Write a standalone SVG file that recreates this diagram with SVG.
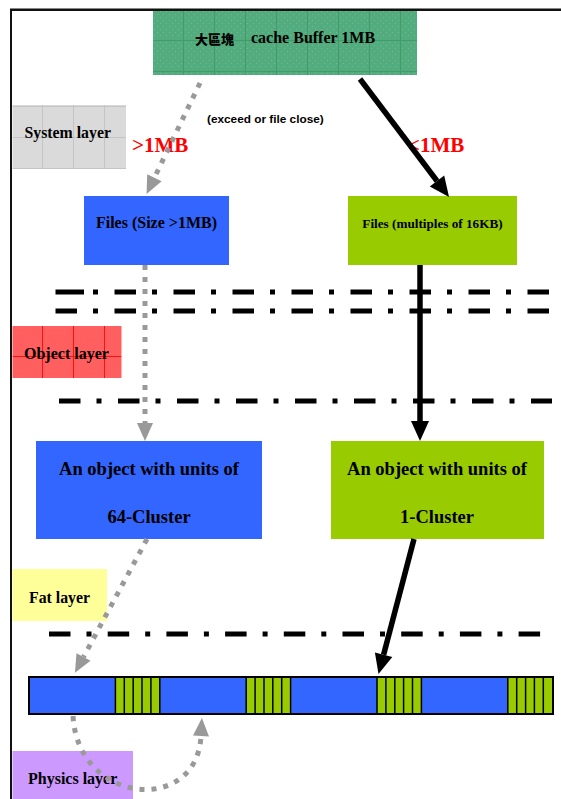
<svg xmlns="http://www.w3.org/2000/svg" width="561" height="799" viewBox="0 0 561 799">
<style>
.serif{font-family:"Liberation Serif","Times New Roman",serif;font-weight:bold;fill:#000}
.sans{font-family:"Liberation Sans",Arial,sans-serif;font-weight:bold;fill:#000}
.red{fill:#FF0000}
.dashdot{fill:none;stroke:#000;stroke-width:5;stroke-dasharray:21.5 16 5 16.5}
.gray{fill:none;stroke:#999;stroke-width:5;stroke-dasharray:5 7}
.black{fill:none;stroke:#000;stroke-width:5.5}
.stripe{stroke:#000;stroke-width:1.5}
</style>
<defs>
<pattern id="pGreen" patternUnits="userSpaceOnUse" x="152" y="9" width="31" height="31">
<rect width="31" height="31" fill="#52AC7E"/>
<path d="M0,0.5H31M0.5,0V31" stroke="#3F9C6B" stroke-width="1"/>
<path d="M2,2h1v1h-1zM5,5h1v1h-1zM8,2h1v1h-1zM11,5h1v1h-1zM14,2h1v1h-1zM17,5h1v1h-1zM20,2h1v1h-1zM23,5h1v1h-1zM26,2h1v1h-1zM29,5h1v1h-1zM2,8h1v1h-1zM5,11h1v1h-1zM8,8h1v1h-1zM11,11h1v1h-1zM14,8h1v1h-1zM17,11h1v1h-1zM20,8h1v1h-1zM23,11h1v1h-1zM26,8h1v1h-1zM29,11h1v1h-1zM2,14h1v1h-1zM5,17h1v1h-1zM8,14h1v1h-1zM11,17h1v1h-1zM14,14h1v1h-1zM17,17h1v1h-1zM20,14h1v1h-1zM23,17h1v1h-1zM26,14h1v1h-1zM29,17h1v1h-1zM2,20h1v1h-1zM5,23h1v1h-1zM8,20h1v1h-1zM11,23h1v1h-1zM14,20h1v1h-1zM17,23h1v1h-1zM20,20h1v1h-1zM23,23h1v1h-1zM26,20h1v1h-1zM29,23h1v1h-1zM2,26h1v1h-1zM8,26h1v1h-1zM14,26h1v1h-1zM20,26h1v1h-1zM26,26h1v1h-1z" fill="#6FBB93"/>
</pattern>
<pattern id="pGray" patternUnits="userSpaceOnUse" x="11" y="106" width="31" height="31">
<rect width="31" height="31" fill="#DADADA"/>
<path d="M0,0.5H31M0.5,0V31" stroke="#C4C4C4" stroke-width="1"/>
</pattern>
<pattern id="pRed" patternUnits="userSpaceOnUse" x="11" y="325" width="31" height="31">
<rect width="31" height="31" fill="#FF5F5F"/>
<path d="M0,0.5H31M0.5,0V31" stroke="#FF1010" stroke-width="1"/>
</pattern>
<marker id="mGray" markerUnits="userSpaceOnUse" markerWidth="18" markerHeight="16" refX="0" refY="8" orient="auto" overflow="visible">
<path d="M0,0 L18,8 L0,16 z" fill="#999"/>
</marker>
<marker id="mBlack" markerUnits="userSpaceOnUse" markerWidth="20" markerHeight="18" refX="0" refY="9" orient="auto" overflow="visible">
<path d="M0,0 L20,9 L0,18 z" fill="#000"/>
</marker>
</defs>
<rect width="561" height="799" fill="#fff"/>
<g id="frame">
<line x1="10" y1="9.8" x2="561" y2="9.8" stroke="#111" stroke-width="2.4"/>
<line x1="11" y1="9" x2="11" y2="799" stroke="#111" stroke-width="2"/>
</g>
<g id="separators">
<path class="dashdot" d="M55.5,292H549"/>
<rect x="77" y="289.5" width="7" height="5" fill="#000"/>
<path class="dashdot" d="M55.5,311H549"/>
<path class="dashdot" d="M59,401H552"/>
<path class="dashdot" d="M49,634H541" style="stroke-dasharray:21.5 16 5 16.2"/>
</g>
<g id="system-layer">
<rect x="12.5" y="105" width="113.5" height="64" fill="url(#pGray)"/>
<text class="serif" x="24.5" y="138" font-size="15.8">System layer</text>
</g>
<g id="object-layer">
<rect x="12.5" y="326" width="109" height="52" fill="url(#pRed)"/>
<text class="serif" x="24" y="359" font-size="16">Object layer</text>
</g>
<g id="fat-layer">
<rect x="12.5" y="569" width="94.5" height="52" fill="#FFFF99"/>
<text class="serif" x="29" y="603" font-size="15.8">Fat layer</text>
</g>
<g id="physics-layer">
<rect x="12.5" y="751" width="120.5" height="48" fill="#CC99FF"/>
<text class="serif" x="28" y="784" font-size="16">Physics layer</text>
</g>
<g id="cache-buffer">
<rect x="153" y="11" width="264" height="64" fill="url(#pGreen)"/>
<text x="195" y="43.5" font-size="13" font-weight="900" font-family="'Noto Sans CJK TC','Noto Sans CJK SC',sans-serif" fill="#000">大區塊</text>
<text class="serif" x="251" y="43" font-size="16">cache Buffer 1MB</text>
</g>
<g id="files-large">
<rect x="84" y="196" width="145" height="69" fill="#3366FF"/>
<text class="serif" x="156.5" y="228" font-size="16" text-anchor="middle">Files (Size &gt;1MB)</text>
</g>
<g id="files-small">
<rect x="348" y="196" width="169" height="69" fill="#99CC00"/>
<text class="serif" x="432.5" y="228" font-size="13.2" text-anchor="middle">Files (multiples of 16KB)</text>
</g>
<g id="object-64">
<rect x="36" y="441" width="226" height="98" fill="#3366FF"/>
<text class="serif" x="149" y="475" font-size="18.5" text-anchor="middle">An object with units of</text>
<text class="serif" x="149" y="523" font-size="18.5" text-anchor="middle">64-Cluster</text>
</g>
<g id="object-1">
<rect x="331" y="441" width="213" height="98" fill="#99CC00"/>
<text class="serif" x="437" y="475" font-size="18.5" text-anchor="middle">An object with units of</text>
<text class="serif" x="437" y="523" font-size="18.5" text-anchor="middle">1-Cluster</text>
</g>
<g id="disk-bar">
<rect x="29" y="677" width="524" height="37" fill="#3366FF"/>
<rect x="115.4" y="677" width="44.4" height="37" fill="#99CC00"/>
<rect x="246.2" y="677" width="44.4" height="37" fill="#99CC00"/>
<rect x="377" y="677" width="44.4" height="37" fill="#99CC00"/>
<rect x="507.8" y="677" width="45.2" height="37" fill="#99CC00"/>
<path class="stripe" d="M115.4,677V714M124.3,677V714M133.2,677V714M142.0,677V714M150.9,677V714M159.8,677V714M246.2,677V714M255.1,677V714M264.0,677V714M272.8,677V714M281.7,677V714M290.6,677V714M377,677V714M385.9,677V714M394.8,677V714M403.6,677V714M412.5,677V714M421.4,677V714M507.8,677V714M516.7,677V714M525.6,677V714M534.4,677V714M543.3,677V714"/>
<rect x="29" y="677" width="524" height="37" fill="none" stroke="#000" stroke-width="2"/>
</g>
<g id="connectors">
<text class="sans" x="207" y="123" font-size="11.8">(exceed or file close)</text>
<text class="serif red" x="132" y="152" font-size="21">&gt;1MB</text>
<text class="serif red" x="408" y="152" font-size="21">&lt;1MB</text>
<path class="gray" d="M200,83 L154.4,177.7" marker-end="url(#mGray)"/>
<path class="black" d="M360,79 L437,181" marker-end="url(#mBlack)"/>
<path class="gray" d="M145,265 V423" marker-end="url(#mGray)"/>
<path class="black" d="M420,265 V421" marker-end="url(#mBlack)"/>
<path class="gray" d="M147,539 L83.5,657" marker-end="url(#mGray)"/>
<path class="black" d="M414,539 L383.6,654.7" marker-end="url(#mBlack)"/>
<path class="gray" d="M73,716 C78,805 197,815 201,736" marker-end="url(#mGray)"/>
</g>
</svg>
